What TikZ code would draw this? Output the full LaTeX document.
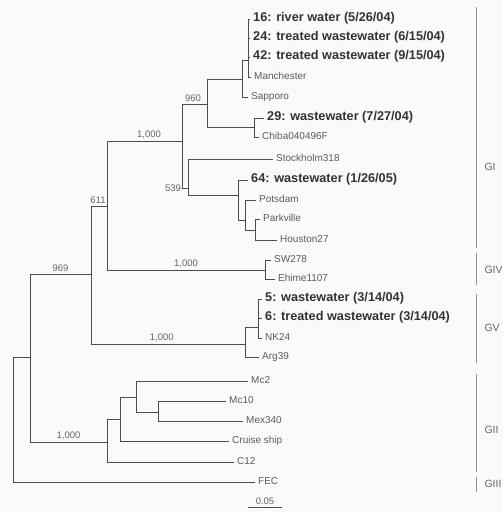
\documentclass[tikz,border=0pt]{standalone}
\usepackage{fontspec}
\setmainfont{Liberation Sans}
\usetikzlibrary{positioning}

\begin{document}
\begin{tikzpicture}[
    x=1pt, y=-1pt,
    br/.style={draw=black!70, line width=1pt},
    iso/.style={anchor=west, inner xsep=3pt, inner ysep=0pt, text height=0.72em, text depth=0.2em, font=\bfseries\fontsize{12.7}{14}\selectfont, text=black!80},
    ref/.style={anchor=west, inner xsep=3pt, inner ysep=0pt, text height=0.72em, text depth=0.2em, font=\fontsize{10}{11}\selectfont, text=black!64},
    boot/.style={font=\fontsize{9.5}{10}\selectfont, text=black!60, inner sep=2pt},
    grp/.style={anchor=west, font=\fontsize{10.5}{12}\selectfont, text=black!60},
    clade/.style={draw=black!42, line width=0.9pt},
  ]
  \fill[black!2] (0,0) rectangle (503,512);
  \useasboundingbox (0,0) rectangle (503,512);

  \coordinate (root) at (13,357);
  \coordinate (n969) at (30,357);
  \coordinate (n611) at (91,274);
  \coordinate (nA) at (107,206);
  \coordinate (nB) at (182,141);
  \coordinate (n960) at (207,104);
  \coordinate (nSap) at (242,79);
  \coordinate (nTop) at (248,60);
  \coordinate (n29) at (254,127);
  \coordinate (n539) at (188,188);
  \coordinate (n64) at (238,195);
  \coordinate (nPot) at (245,220);
  \coordinate (nPark) at (255,230);
  \coordinate (nGIV) at (265,270);
  \coordinate (nGV) at (245,344);
  \coordinate (n56) at (258,327);
  \coordinate (nGII) at (107,442);
  \coordinate (nCru) at (120,419);
  \coordinate (nMc) at (136,397);
  \coordinate (nMex) at (158,412);

  \node[iso] (s16) at (250,19) {16: river water (5/26/04)};
  \node[iso] (s24) at (250,38) {24: treated wastewater (6/15/04)};
  \node[iso] (s42) at (250,57) {42: treated wastewater (9/15/04)};
  \node[ref] (man) at (251,77) {Manchester};
  \node[ref] (sap) at (248,97) {Sapporo};
  \node[iso] (s29) at (264,118) {29: wastewater (7/27/04)};
  \node[ref] (chiba) at (259,137) {Chiba040496F};
  \node[ref] (stock) at (273,159) {Stockholm318};
  \node[iso] (s64) at (248,180) {64: wastewater (1/26/05)};
  \node[ref] (pots) at (256,200) {Potsdam};
  \node[ref] (park) at (260,219) {Parkville};
  \node[ref] (hou) at (277,240) {Houston27};
  \node[ref] (sw) at (271,260) {SW278};
  \node[ref] (ehi) at (275,279) {Ehime1107};
  \node[iso] (s5) at (262,299) {5: wastewater (3/14/04)};
  \node[iso] (s6) at (262,318) {6: treated wastewater (3/14/04)};
  \node[ref] (nk) at (262,338) {NK24};
  \node[ref] (arg) at (259,357) {Arg39};
  \node[ref] (mc2) at (248,381) {Mc2};
  \node[ref] (mc10) at (226,401) {Mc10};
  \node[ref] (mex) at (243,421) {Mex340};
  \node[ref] (cru) at (229,441) {Cruise ship};
  \node[ref] (c12) at (234,462) {C12};
  \node[ref] (fec) at (255,482) {FEC};

  \draw[br] (root) -- (n969);
  \draw[br] (root) |- (fec.west);
  \draw[br] (n969) |- node[boot, above, pos=0.75] {969} (n611);
  \draw[br] (n969) |- node[boot, above, pos=0.75] {1,000} (nGII);
  \draw[br] (n611) |- node[boot, above, pos=0.72] {611} (nA);
  \draw[br] (n611) |- node[boot, above, pos=0.73] {1,000} (nGV);
  \draw[br] (nA) |- node[boot, above, pos=0.78] {1,000} (nB);
  \draw[br] (nA) |- node[boot, above, pos=0.75] {1,000} (nGIV);
  \draw[br] (nB) |- node[boot, above, pos=0.72] {960} (n960);
  \draw[br] (nB) |- node[boot, left, pos=0.5, inner sep=0.5pt] {539} (n539);
  \draw[br] (n960) |- (nSap);
  \draw[br] (n960) |- (n29);
  \draw[br] (nSap) |- (nTop);
  \draw[br] (nSap) |- (sap.west);
  \draw[br] (nTop) |- (s16.west);
  \draw[br] (nTop) |- (s24.west);
  \draw[br] (nTop) |- (s42.west);
  \draw[br] (nTop) |- (man.west);
  \draw[br] (n29) |- (s29.west);
  \draw[br] (n29) |- (chiba.west);
  \draw[br] (n539) |- (stock.west);
  \draw[br] (n539) |- (n64);
  \draw[br] (n64) |- (s64.west);
  \draw[br] (n64) |- (nPot);
  \draw[br] (nPot) |- (pots.west);
  \draw[br] (nPot) |- (nPark);
  \draw[br] (nPark) |- (park.west);
  \draw[br] (nPark) |- (hou.west);
  \draw[br] (nGIV) |- (sw.west);
  \draw[br] (nGIV) |- (ehi.west);
  \draw[br] (nGV) |- (n56);
  \draw[br] (nGV) |- (arg.west);
  \draw[br] (n56) |- (s5.west);
  \draw[br] (n56) |- (s6.west);
  \draw[br] (n56) |- (nk.west);
  \draw[br] (nGII) |- (nCru);
  \draw[br] (nGII) |- (c12.west);
  \draw[br] (nCru) |- (nMc);
  \draw[br] (nCru) |- (cru.west);
  \draw[br] (nMc) |- (mc2.west);
  \draw[br] (nMc) |- (nMex);
  \draw[br] (nMex) |- (mc10.west);
  \draw[br] (nMex) |- (mex.west);

  \draw[clade] (476,7) -- (476,248);
  \draw[clade] (476,253) -- (476,285);
  \draw[clade] (476,294) -- (476,363);
  \draw[clade] (476,374) -- (476,472);
  \draw[clade] (476,477) -- (476,492);
  \node[grp] (gI) at (481,167) {GI};
  \node[grp] (gIV) at (481,270) {GIV};
  \node[grp] (gV) at (481,328) {GV};
  \node[grp] (gII) at (481,430) {GII};
  \node[grp] (gIII) at (481,484) {GIII};

  \coordinate (barL) at (248,507);
  \coordinate (barR) at (282,507);
  \draw[br, line width=0.8pt] (barL) -- node[boot, above] {0.05} (barR);
\end{tikzpicture}
\end{document}
